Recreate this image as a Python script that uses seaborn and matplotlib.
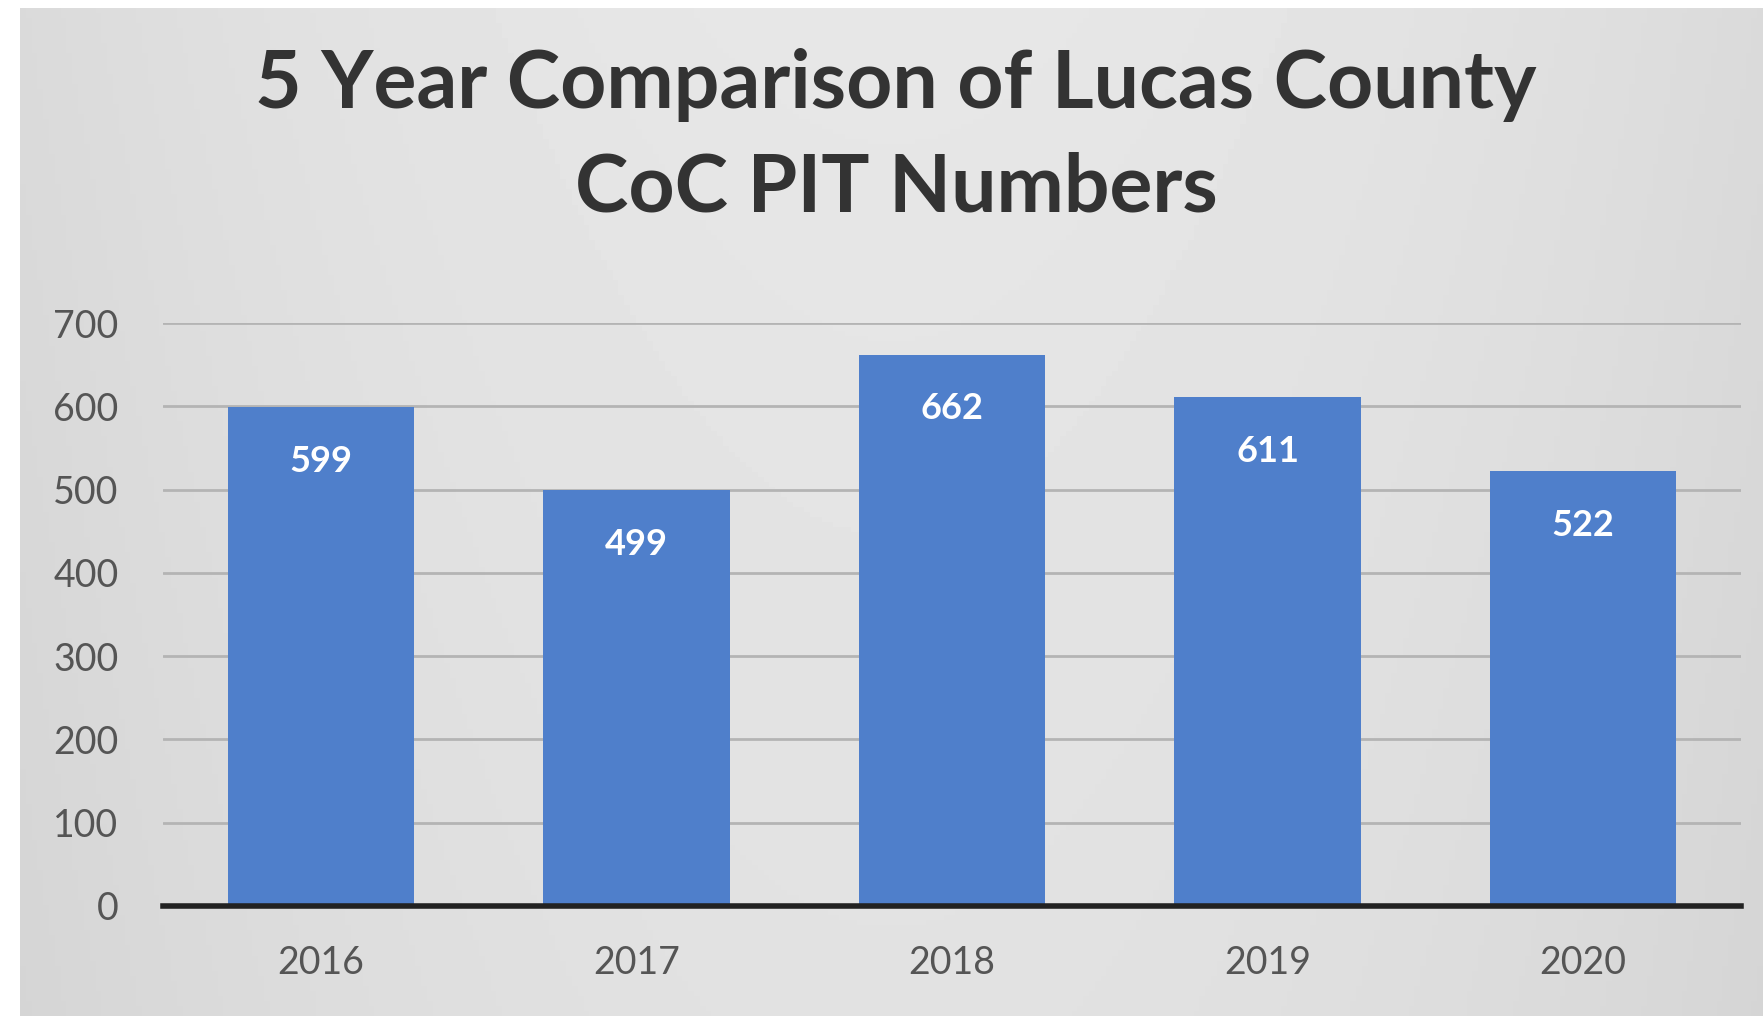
import numpy as np
import pandas as pd
import matplotlib
matplotlib.use("Agg")
import matplotlib.pyplot as plt
import seaborn as sns

# chart data
years = ["2016", "2017", "2018", "2019", "2020"]
pit_counts = [599, 499, 662, 611, 522]
y_ticks = [0, 100, 200, 300, 400, 500, 600, 700]

title = "5 Year Comparison of Lucas County\nCoC PIT Numbers"

sns.set_theme(style="white")
plt.rcParams["font.family"] = ["Lato", "DejaVu Sans"]

df = pd.DataFrame({"year": years, "count": pit_counts})

fig = plt.figure(figsize=(17.63, 10.16), dpi=100)
fig.patch.set_facecolor("white")

# gray gradient panel behind the chart
bg = fig.add_axes([20 / 1763, 0, 1 - 20 / 1763, 1 - 8 / 1016], zorder=-10)
xx = np.linspace(-1, 1, 300)
yy = np.linspace(0, 1, 200)
X, Y = np.meshgrid(xx, yy)
shade = 0.905 - 0.05 * X ** 2 - 0.02 * Y
bg.imshow(shade, cmap="gray", vmin=0, vmax=1, aspect="auto", extent=[0, 1, 0, 1])
bg.set_axis_off()

ax = fig.add_axes([163 / 1763, 110 / 1016, (1741 - 163) / 1763, (906 - 323) / 1016])
ax.patch.set_alpha(0)

sns.barplot(data=df, x="year", y="count", color="#4f7fcb", width=0.59,
            saturation=1, linewidth=0, ax=ax, zorder=3)

ax.bar_label(ax.containers[0], padding=-51, color="white", fontsize=26,
             fontweight="bold")

ax.set_ylim(0, 700)
ax.set_xlim(-0.5, len(years) - 0.5)
ax.set_yticks(y_ticks)
ax.yaxis.grid(True, color="#b4b4b4", linewidth=2, zorder=0)
ax.set_axisbelow(True)
for s in ["top", "right", "left"]:
    ax.spines[s].set_visible(False)
ax.spines["bottom"].set_color("#222222")
ax.spines["bottom"].set_linewidth(4)
ax.spines["bottom"].set_zorder(5)
ax.tick_params(axis="both", length=0, labelsize=27, labelcolor="#555555")
ax.tick_params(axis="x", pad=28)
ax.tick_params(axis="y", pad=32)
ax.set_xlabel("")
ax.set_ylabel("")

fig.text(896 / 1763, 1 - 137 / 1016, title, ha="center", va="center",
         fontsize=58, fontweight="bold", color="#333333", linespacing=1.5)

fig.savefig("out.png", dpi=100)
